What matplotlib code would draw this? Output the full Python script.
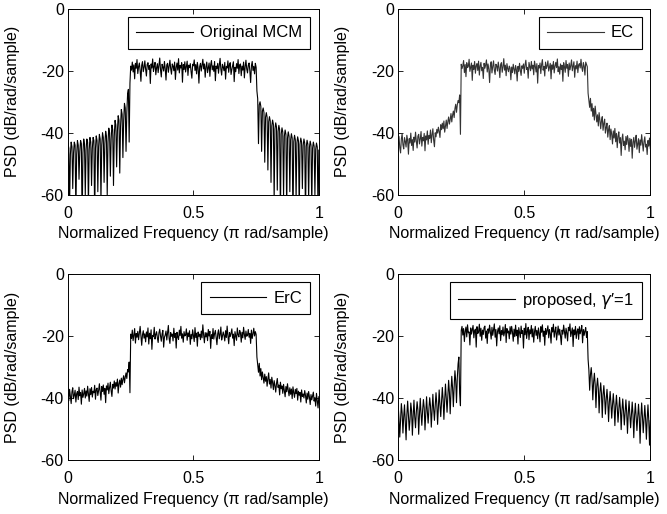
import numpy as np
import matplotlib
matplotlib.use('Agg')
import matplotlib.pyplot as plt

plt.rcParams['font.family'] = ['Liberation Sans', 'DejaVu Sans']
plt.rcParams['axes.unicode_minus'] = False

# PSD traces (dB/rad/sample), 321 bins over 0..1 (x pi rad/sample)
# each trace = lower sideband (80) + passband (161) + upper sideband (80)
freq = np.linspace(0, 1, 321)

mcm_low = [-43.5, -45, -63, -47, -43, -44.5, -58, -46.5, -43, -44, -66, -47,
           -42.5, -44, -55, -46, -42.5, -43.5, -70, -46.5, -42, -43.5, -60, -45.5,
           -42, -43, -64, -45.5, -41.5, -43, -57, -45, -41.5, -42.5, -68, -45,
           -41, -42.5, -59, -44.5, -40.5, -42, -62, -44, -40, -41.5, -56, -43.5,
           -39.5, -41, -60, -43, -38.5, -40, -54, -42, -37.5, -39, -57, -41,
           -36, -37.5, -51, -39.5, -34.5, -36, -53, -38, -32.5, -34, -48, -36,
           -30.5, -32, -46, -33.5, -27.5, -26, -43, -24]
mcm_pass = [-18.5, -19.8, -17.2, -20.4, -18.1, -22.6, -17.6, -19.2, -16.4, -20.9,
            -18.7, -17.5, -19.9, -23.4, -18.2, -17.1, -20.3, -18.9, -16.8, -19.5,
            -21.7, -18.0, -17.4, -19.6, -18.3, -24.1, -17.8, -19.1, -16.2, -20.2,
            -18.6, -17.3, -21.3, -19.0, -17.7, -20.6, -18.4, -15.9, -19.7, -22.0,
            -17.9, -18.8, -20.1, -17.0, -19.3, -23.0, -18.1, -17.6, -20.5, -18.6,
            -16.6, -19.4, -21.1, -17.8, -18.5, -20.0, -17.2, -22.8, -18.9, -17.5,
            -19.8, -16.1, -20.7, -18.3, -19.1, -17.4, -23.7, -18.0, -19.6, -17.1,
            -20.4, -18.7, -16.9, -21.5, -18.2, -19.0, -17.7, -20.3, -22.4, -17.9,
            -18.4, -16.5, -19.9, -18.0, -21.0, -17.3, -19.2, -24.0, -18.6, -17.6,
            -20.1, -18.3, -16.3, -19.4, -17.8, -22.1, -18.7, -17.2, -20.6, -19.0,
            -17.5, -21.8, -18.1, -16.7, -19.7, -18.4, -20.2, -17.0, -23.2, -18.5,
            -19.3, -17.6, -20.8, -18.2, -16.0, -19.5, -21.4, -17.9, -18.8, -20.0,
            -17.3, -22.7, -18.6, -19.1, -16.8, -20.5, -18.0, -17.4, -21.2, -19.6,
            -18.3, -17.1, -23.5, -18.9, -20.3, -17.7, -19.2, -16.4, -20.9, -18.1,
            -17.8, -21.6, -18.5, -19.8, -17.2, -22.3, -18.7, -16.6, -19.4, -20.7,
            -18.2, -17.5, -20.1, -23.8, -18.4, -17.0, -19.9, -18.6, -21.0, -17.6,
            -18.9]
mcm_high = [-26.5, -29.0, -43.5, -31.0, -30.0, -31.5, -46.0, -33.0, -32.0, -33.5,
            -49.5, -35.0, -33.5, -35.0, -52.0, -36.5, -34.8, -36.2, -56.0, -37.8,
            -35.9, -37.3, -62.0, -38.8, -36.8, -38.2, -58.5, -39.6, -37.6, -39.0,
            -67.0, -40.4, -38.4, -39.8, -60.5, -41.1, -39.1, -40.5, -65.0, -41.8,
            -39.7, -41.1, -59.0, -42.3, -40.3, -41.7, -70.0, -42.9, -40.8, -42.2,
            -61.5, -43.3, -41.3, -42.6, -66.0, -43.7, -41.7, -43.0, -58.0, -44.1,
            -42.0, -43.4, -68.0, -44.4, -42.4, -43.7, -62.0, -44.7, -42.7, -44.0,
            -64.0, -45.0, -43.0, -44.3, -60.0, -45.3, -43.3, -44.6, -67.0, -45.6]

ec_low = [-43.5, -41.2, -44.8, -46.5, -42.0, -40.3, -43.9, -45.2, -41.6, -42.8,
          -44.6, -40.8, -42.5, -46.9, -41.9, -43.3, -40.1, -44.1, -42.2, -45.7,
          -41.4, -43.0, -39.8, -42.7, -44.9, -41.1, -40.5, -43.6, -42.0, -39.6,
          -44.3, -41.5, -42.6, -40.2, -45.8, -41.0, -42.3, -39.4, -43.7, -40.9,
          -41.8, -39.1, -43.2, -40.6, -38.7, -42.4, -44.5, -40.0, -41.3, -38.9,
          -40.1, -38.2, -39.6, -41.5, -37.4, -39.0, -36.9, -38.7, -36.2, -39.8,
          -37.8, -35.9, -38.6, -36.4, -34.9, -37.2, -35.7, -33.8, -36.5, -34.3,
          -33.0, -35.1, -32.2, -30.8, -33.4, -31.0, -29.6, -30.3, -27.8, -40.5]
ec_pass = [-17.9, -19.3, -18.4, -16.7, -20.6, -18.0, -21.9, -17.4, -19.0, -18.6,
           -16.3, -20.2, -18.8, -17.5, -23.1, -18.2, -19.6, -17.0, -20.8, -18.4,
           -17.7, -19.9, -16.9, -21.4, -18.5, -17.3, -20.0, -18.9, -22.5, -17.6,
           -19.2, -18.1, -16.5, -20.4, -17.8, -19.5, -23.8, -18.3, -17.1, -20.7,
           -18.6, -16.8, -19.7, -21.2, -17.9, -18.4, -20.1, -17.2, -19.0, -22.2,
           -18.0, -17.4, -20.5, -18.7, -16.1, -19.8, -18.2, -21.6, -17.7, -19.3,
           -20.3, -18.5, -19.1, -22.9, -18.8, -20.6, -17.9, -19.4, -21.0, -18.3,
           -19.7, -23.3, -18.6, -20.2, -17.6, -19.9, -21.5, -18.4, -19.2, -17.8,
           -20.8, -18.1, -16.6, -19.6, -18.9, -22.4, -17.3, -18.7, -20.0, -17.0,
           -19.4, -18.2, -21.3, -16.9, -18.5, -20.4, -17.7, -24.0, -18.3, -19.1,
           -17.5, -20.9, -18.0, -16.4, -19.8, -18.6, -21.7, -17.2, -19.3, -18.4,
           -16.8, -20.1, -18.9, -17.6, -22.6, -18.1, -19.5, -17.0, -20.7, -18.5,
           -17.3, -19.0, -16.2, -20.3, -18.7, -21.1, -17.8, -19.6, -18.2, -23.4,
           -17.4, -18.8, -20.5, -16.7, -19.2, -18.0, -21.8, -17.5, -19.7, -18.3,
           -16.5, -20.0, -18.6, -17.1, -22.1, -18.4, -19.4, -16.9, -20.6, -18.1,
           -17.7, -19.1, -16.3, -18.9, -20.2, -17.4, -18.5, -21.4, -17.2, -18.0,
           -18.7]
ec_high = [-27.2, -29.5, -31.8, -28.9, -33.0, -30.6, -34.7, -32.1, -35.9, -31.4,
           -33.8, -36.5, -34.2, -37.8, -33.5, -35.9, -38.7, -36.1, -34.8, -39.2,
           -37.0, -35.6, -40.1, -38.3, -36.9, -41.4, -39.0, -37.7, -42.2, -38.8,
           -40.5, -43.6, -39.4, -41.7, -38.6, -42.9, -40.2, -44.8, -41.1, -39.7,
           -43.3, -41.6, -47.3, -42.0, -40.4, -44.1, -42.7, -45.5, -41.2, -43.8,
           -40.9, -42.4, -46.0, -41.8, -44.4, -42.1, -48.2, -43.0, -41.5, -44.7,
           -42.6, -40.8, -45.3, -43.5, -41.9, -46.4, -42.3, -44.0, -40.6, -43.2,
           -45.9, -42.8, -41.3, -44.6, -43.7, -47.0, -42.5, -44.3, -41.7, -45.1]

erc_low = [-38.4, -40.9, -37.2, -39.6, -41.8, -38.0, -36.7, -40.2, -39.1, -37.5,
           -41.3, -38.6, -37.9, -40.5, -36.5, -39.3, -38.2, -42.0, -37.4, -39.8,
           -38.7, -36.9, -40.0, -37.7, -39.4, -36.2, -38.5, -41.1, -37.0, -38.9,
           -36.6, -39.7, -37.8, -38.3, -35.9, -40.4, -37.3, -36.8, -39.2, -37.6,
           -35.4, -38.1, -40.7, -36.3, -37.9, -35.8, -38.8, -36.9, -41.5, -36.1,
           -37.4, -35.2, -38.6, -36.6, -34.9, -37.7, -39.5, -35.6, -36.8, -34.5,
           -37.1, -35.0, -36.2, -33.9, -38.4, -35.3, -34.2, -36.5, -33.6, -35.7,
           -34.0, -32.8, -35.1, -33.3, -31.9, -33.7, -30.8, -31.6, -28.4, -38.3]
erc_pass = [-19.4, -20.8, -18.1, -21.5, -19.7, -17.6, -22.3, -19.2, -20.4, -18.5,
            -21.2, -19.0, -16.9, -20.1, -23.0, -19.6, -18.3, -20.7, -19.3, -21.9,
            -18.7, -20.3, -17.4, -22.6, -19.1, -20.9, -18.0, -24.3, -19.8, -20.2,
            -17.2, -21.0, -19.5, -18.6, -20.6, -22.1, -19.0, -17.8, -20.0, -21.7,
            -19.3, -18.2, -23.6, -20.4, -19.7, -18.4, -21.3, -19.1, -16.6, -20.8,
            -22.4, -18.9, -20.1, -19.4, -21.6, -17.5, -20.5, -19.2, -23.9, -18.8,
            -20.3, -21.1, -18.1, -19.9, -16.9, -20.7, -19.3, -22.0, -18.6, -20.0,
            -19.6, -17.7, -21.4, -19.0, -20.2, -18.3, -22.7, -19.5, -20.9, -18.0,
            -19.8, -21.8, -17.3, -20.5, -19.1, -23.3, -18.7, -20.1, -19.4, -21.2,
            -18.4, -20.6, -16.4, -19.7, -22.2, -18.9, -20.3, -19.0, -21.5, -17.9,
            -20.0, -18.5, -24.0, -19.6, -20.8, -17.6, -21.0, -19.2, -18.2, -20.4,
            -22.8, -19.3, -18.0, -20.9, -19.5, -17.1, -21.3, -20.1, -18.7, -19.8,
            -21.6, -18.3, -20.5, -16.8, -19.9, -22.5, -18.9, -20.2, -19.1, -17.7,
            -20.7, -19.4, -23.1, -18.6, -20.0, -21.4, -17.4, -19.6, -20.3, -18.2,
            -19.0, -22.0, -18.8, -20.6, -17.2, -19.5, -21.1, -18.4, -20.1, -19.7,
            -17.9, -20.4, -19.2, -22.4, -18.1, -20.8, -19.3, -17.5, -20.0, -18.6,
            -19.5]
erc_high = [-26.8, -29.4, -31.7, -28.8, -32.9, -30.5, -34.1, -31.6, -33.4, -35.2,
            -32.3, -34.6, -33.1, -36.2, -33.8, -31.9, -35.5, -34.0, -36.8, -33.3,
            -35.0, -37.3, -34.4, -36.0, -38.1, -35.3, -33.7, -36.6, -35.8, -39.0,
            -34.9, -37.0, -36.1, -38.5, -35.6, -37.7, -39.6, -36.3, -38.0, -35.4,
            -37.5, -39.3, -36.7, -38.8, -37.1, -40.2, -36.4, -38.3, -39.8, -37.2,
            -38.6, -36.9, -40.7, -37.8, -39.1, -38.2, -41.3, -37.4, -39.5, -38.7,
            -40.0, -37.6, -39.2, -41.6, -38.4, -40.4, -37.9, -39.7, -42.1, -38.9,
            -40.6, -39.4, -38.1, -41.0, -39.9, -42.6, -38.5, -40.8, -43.2, -39.6]

prop_low = [-42.5, -46.8, -52.6, -47.4, -41.8, -44.9, -51.3, -46.0, -42.2, -47.5,
            -53.5, -45.3, -41.0, -45.6, -50.4, -46.9, -41.6, -44.2, -52.0, -45.8,
            -40.7, -46.1, -49.6, -44.5, -41.2, -43.8, -51.7, -45.2, -40.1, -45.0,
            -48.8, -44.0, -40.5, -43.1, -50.3, -44.8, -39.6, -44.4, -48.1, -43.5,
            -39.9, -42.6, -49.4, -43.9, -38.8, -43.7, -47.2, -42.4, -38.3, -41.9,
            -48.5, -42.8, -37.4, -42.3, -46.0, -41.2, -36.6, -40.5, -46.9, -40.7,
            -35.5, -39.8, -44.6, -39.3, -34.3, -38.2, -45.1, -38.0, -33.0, -36.7,
            -42.8, -36.4, -31.2, -34.5, -41.5, -33.6, -29.0, -26.8, -38.5, -42.5]
prop_pass = [-18.2, -16.9, -19.7, -17.6, -21.8, -18.5, -17.1, -20.3, -16.4, -19.0,
             -18.7, -22.9, -17.4, -19.4, -18.0, -16.6, -20.6, -18.3, -17.8, -23.6,
             -17.0, -19.2, -18.6, -16.2, -20.1, -17.5, -21.4, -18.1, -19.5, -17.3,
             -16.8, -20.7, -18.4, -22.4, -17.7, -19.1, -16.5, -18.9, -21.0, -17.2,
             -19.8, -18.0, -16.1, -20.4, -17.9, -23.2, -18.6, -17.4, -19.3, -16.7,
             -21.5, -18.2, -19.6, -17.1, -20.0, -18.8, -16.3, -22.1, -17.6, -19.0,
             -18.4, -20.9, -17.0, -19.4, -16.9, -18.7, -21.7, -17.8, -20.2, -16.5,
             -19.9, -18.1, -22.6, -17.3, -18.9, -20.5, -16.8, -19.2, -18.3, -23.9,
             -17.5, -19.6, -16.0, -20.8, -18.5, -17.2, -21.2, -18.0, -19.3, -16.6,
             -20.3, -17.7, -22.0, -18.6, -16.9, -19.8, -18.2, -20.9, -17.4, -19.1,
             -21.9, -17.0, -18.8, -16.4, -20.1, -18.4, -23.0, -17.6, -19.5, -18.0,
             -16.7, -20.6, -17.9, -19.2, -22.3, -17.3, -18.7, -16.2, -20.4, -18.5,
             -17.1, -21.3, -18.9, -16.8, -19.7, -17.8, -20.0, -22.8, -18.1, -19.4,
             -16.5, -18.6, -20.7, -17.5, -19.0, -21.6, -17.2, -18.3, -16.1, -20.2,
             -18.8, -17.4, -23.4, -18.0, -19.6, -16.9, -20.8, -18.5, -17.7, -21.1,
             -17.0, -19.3, -18.2, -16.6, -22.2, -17.9, -19.8, -18.4, -17.3, -20.5,
             -18.6]
prop_high = [-27.5, -31.0, -37.5, -32.5, -30.2, -33.8, -40.6, -34.9, -32.0, -35.7,
             -43.1, -36.3, -33.6, -37.0, -44.8, -38.2, -35.1, -38.6, -46.3, -39.0,
             -36.0, -39.8, -45.2, -40.4, -37.2, -41.0, -47.6, -41.3, -37.9, -41.7,
             -46.5, -42.2, -38.6, -42.4, -48.9, -42.8, -39.1, -43.0, -47.8, -43.6,
             -39.8, -43.5, -50.2, -44.1, -40.3, -44.2, -48.7, -44.5, -40.6, -44.6,
             -51.4, -45.0, -41.0, -45.1, -49.6, -45.3, -41.3, -45.4, -52.8, -45.7,
             -41.7, -45.9, -50.5, -46.0, -42.0, -46.2, -54.6, -46.4, -41.6, -46.0,
             -51.2, -46.6, -42.4, -46.8, -53.3, -46.9, -42.2, -47.0, -55.2, -47.3]

labels = ['Original MCM', 'EC', 'ErC', "proposed, $\\gamma$\u2032=1"]
colors = ['black', '#333333', 'black', 'black']
psds = [mcm_low + mcm_pass + mcm_high,
        ec_low + ec_pass + ec_high,
        erc_low + erc_pass + erc_high,
        prop_low + prop_pass + prop_high]

fig = plt.figure(figsize=(6.67, 5.14), dpi=100)
boxes = [[0.102, 0.621, 0.376, 0.362], [0.597, 0.621, 0.378, 0.362],
         [0.102, 0.105, 0.376, 0.362], [0.597, 0.105, 0.378, 0.362]]

for box, psd, lab, col in zip(boxes, psds, labels, colors):
    ax = fig.add_axes(box)
    ax.plot(freq, psd, color=col, lw=0.8, label=lab)
    ax.set_xlim(0, 1)
    ax.set_ylim(-60, 0)
    ax.set_xticks([0, 0.5, 1])
    ax.set_xticklabels(['0', '0.5', '1'])
    ax.set_yticks([-60, -40, -20, 0])
    ax.tick_params(direction='in', top=True, right=True, length=3.5,
                   width=0.6, labelsize=11.5)
    ax.tick_params(axis='x', pad=8)
    ax.tick_params(axis='y', pad=3)
    for s in ax.spines.values():
        s.set_linewidth(0.7)
    ax.set_xlabel('Normalized Frequency (\u03c0 rad/sample)', fontsize=11.5, labelpad=4)
    ax.set_ylabel('PSD (dB/rad/sample)', fontsize=11.5, labelpad=15)
    leg = ax.legend(loc='upper right', fontsize=12, handlelength=3.4,
                    handletextpad=0.42, borderpad=0.5, borderaxespad=0.5,
                    fancybox=False, framealpha=1)
    leg.get_frame().set_edgecolor('black')
    leg.get_frame().set_linewidth(0.8)

fig.savefig('out.png', dpi=100)
